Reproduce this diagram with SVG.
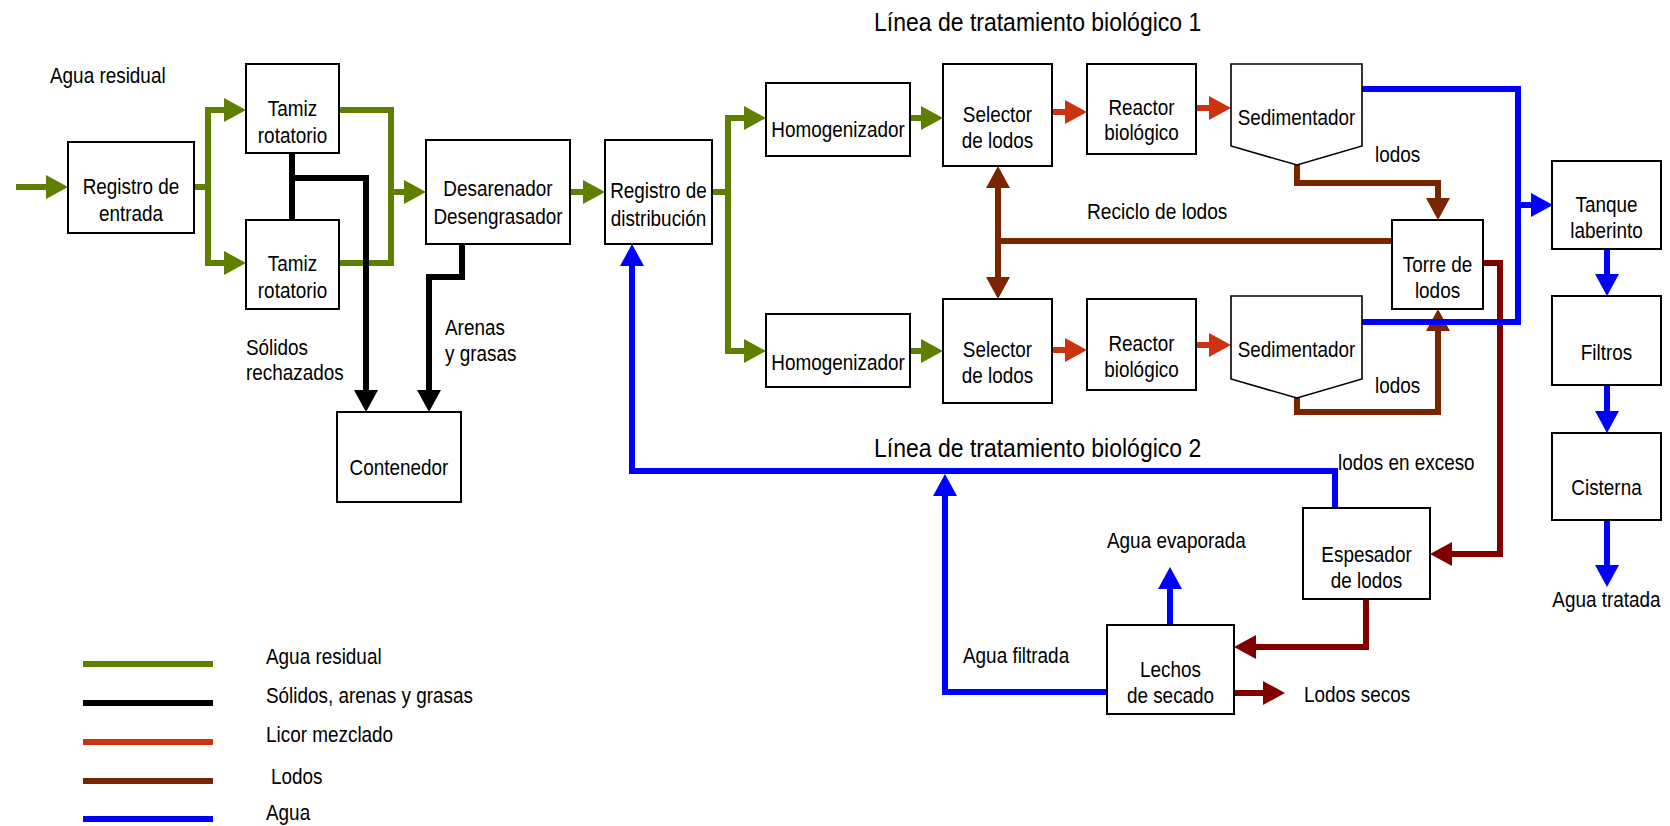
<svg xmlns="http://www.w3.org/2000/svg" width="1670" height="826" viewBox="0 0 1670 826">
  <style>
    .box { fill: #fff; stroke: #000; stroke-width: 2; }
    .sed { fill: #fff; stroke: #000; stroke-width: 1.6; stroke-linejoin: miter; }
    .t { font-family: "Liberation Sans", Arial, sans-serif; font-size: 22px; fill: #000; }
    .c { text-anchor: middle; }
    .title { font-family: "Liberation Sans", Arial, sans-serif; font-size: 25px; fill: #000; }
    .flow { fill: none; stroke-width: 6; stroke-linejoin: miter; stroke-linecap: butt; }
    .g { stroke: #5f7f00; }
    .k { stroke: #000; }
    .r { stroke: #cc3311; }
    .b { stroke: #7b2400; }
    .m { stroke: #800000; }
    .w { stroke: #0000ff; }
  </style>
  <defs>
    <marker id="ag" viewBox="0 0 22 24" refX="2" refY="12" markerWidth="22" markerHeight="24" markerUnits="userSpaceOnUse" orient="auto-start-reverse"><path d="M0 0L22 12L0 24z" fill="#5f7f00"/></marker>
    <marker id="ak" viewBox="0 0 22 24" refX="2" refY="12" markerWidth="22" markerHeight="24" markerUnits="userSpaceOnUse" orient="auto-start-reverse"><path d="M0 0L22 12L0 24z" fill="#000"/></marker>
    <marker id="ar" viewBox="0 0 22 24" refX="2" refY="12" markerWidth="22" markerHeight="24" markerUnits="userSpaceOnUse" orient="auto-start-reverse"><path d="M0 0L22 12L0 24z" fill="#cc3311"/></marker>
    <marker id="ab" viewBox="0 0 22 24" refX="2" refY="12" markerWidth="22" markerHeight="24" markerUnits="userSpaceOnUse" orient="auto-start-reverse"><path d="M0 0L22 12L0 24z" fill="#7b2400"/></marker>
    <marker id="am" viewBox="0 0 22 24" refX="2" refY="12" markerWidth="22" markerHeight="24" markerUnits="userSpaceOnUse" orient="auto-start-reverse"><path d="M0 0L22 12L0 24z" fill="#800000"/></marker>
    <marker id="aw" viewBox="0 0 22 24" refX="2" refY="12" markerWidth="22" markerHeight="24" markerUnits="userSpaceOnUse" orient="auto-start-reverse"><path d="M0 0L22 12L0 24z" fill="#0000ff"/></marker>
  </defs>

  <rect width="1670" height="826" fill="#fff"/>

  <!-- connectors -->
  <g id="connectors">
    <!-- wastewater (green) -->
    <path class="flow g" d="M16 187H48" marker-end="url(#ag)"/>
    <path class="flow g" d="M194 187H208"/>
    <path class="flow g" d="M226 110H208V263H226" marker-start="url(#ag)" marker-end="url(#ag)"/>
    <path class="flow g" d="M339 110H391V263H339"/>
    <path class="flow g" d="M391 192H406" marker-end="url(#ag)"/>
    <path class="flow g" d="M570 192H585" marker-end="url(#ag)"/>
    <path class="flow g" d="M712 192H728"/>
    <path class="flow g" d="M746 118H728V351H746" marker-start="url(#ag)" marker-end="url(#ag)"/>
    <path class="flow g" d="M910 118H923" marker-end="url(#ag)"/>
    <path class="flow g" d="M910 351H923" marker-end="url(#ag)"/>
    <!-- solids, grit and grease (black) -->
    <path class="flow k" d="M292 153V220"/>
    <path class="flow k" d="M292 178H366V392" marker-end="url(#ak)"/>
    <path class="flow k" d="M462 244V277H429V392" marker-end="url(#ak)"/>
    <!-- mixed liquor (red) -->
    <path class="flow r" d="M1052 112H1067" marker-end="url(#ar)"/>
    <path class="flow r" d="M1052 350H1067" marker-end="url(#ar)"/>
    <path class="flow r" d="M1196 108H1211" marker-end="url(#ar)"/>
    <path class="flow r" d="M1196 345H1211" marker-end="url(#ar)"/>
    <!-- sludge (brown) -->
    <path class="flow b" d="M1297 165V183H1438V200" marker-end="url(#ab)"/>
    <path class="flow b" d="M1297 398V412H1438V329" marker-end="url(#ab)"/>
    <path class="flow b" d="M1392 241H998"/>
    <path class="flow b" d="M998 186V279" marker-start="url(#ab)" marker-end="url(#ab)"/>
    <path class="flow m" d="M1483 263H1500V554H1450" marker-end="url(#am)"/>
    <path class="flow m" d="M1366 599V647H1254" marker-end="url(#am)"/>
    <path class="flow m" d="M1234 693H1265" marker-end="url(#am)"/>
    <!-- water (blue) -->
    <path class="flow w" d="M1362 89H1518V322H1362"/>
    <path class="flow w" d="M1518 205H1533" marker-end="url(#aw)"/>
    <path class="flow w" d="M1607 249V276" marker-end="url(#aw)"/>
    <path class="flow w" d="M1607 385V413" marker-end="url(#aw)"/>
    <path class="flow w" d="M1607 520V567" marker-end="url(#aw)"/>
    <path class="flow w" d="M1335 508V471H632V264" marker-end="url(#aw)"/>
    <path class="flow w" d="M1107 692H945V494" marker-end="url(#aw)"/>
    <path class="flow w" d="M1170 625V587" marker-end="url(#aw)"/>
  </g>

  <!-- nodes -->
  <g id="registro-entrada">
    <rect class="box" x="68" y="142" width="126" height="91"/>
    <text class="t c" transform="translate(131 0) scale(0.86 1)"><tspan x="0" y="194">Registro de</tspan><tspan x="0" y="221">entrada</tspan></text>
  </g>
  <g id="tamiz-1">
    <rect class="box" x="246" y="64" width="93" height="89"/>
    <text class="t c" transform="translate(292.5 0) scale(0.86 1)"><tspan x="0" y="116">Tamiz</tspan><tspan x="0" y="143">rotatorio</tspan></text>
  </g>
  <g id="tamiz-2">
    <rect class="box" x="246" y="220" width="93" height="89"/>
    <text class="t c" transform="translate(292.5 0) scale(0.86 1)"><tspan x="0" y="271">Tamiz</tspan><tspan x="0" y="298">rotatorio</tspan></text>
  </g>
  <g id="desarenador">
    <rect class="box" x="426" y="140" width="144" height="104"/>
    <text class="t c" transform="translate(498 0) scale(0.86 1)"><tspan x="0" y="196">Desarenador</tspan><tspan x="0" y="224">Desengrasador</tspan></text>
  </g>
  <g id="contenedor">
    <rect class="box" x="337" y="412" width="124" height="90"/>
    <text class="t c" transform="translate(399 0) scale(0.86 1)" x="0" y="475">Contenedor</text>
  </g>
  <g id="registro-distribucion">
    <rect class="box" x="605" y="140" width="107" height="104"/>
    <text class="t c" transform="translate(658.5 0) scale(0.86 1)"><tspan x="0" y="198">Registro de</tspan><tspan x="0" y="226">distribución</tspan></text>
  </g>
  <g id="homogenizador-1">
    <rect class="box" x="766" y="83" width="144" height="73"/>
    <text class="t c" transform="translate(838 0) scale(0.86 1)" x="0" y="137">Homogenizador</text>
  </g>
  <g id="homogenizador-2">
    <rect class="box" x="766" y="314" width="144" height="73"/>
    <text class="t c" transform="translate(838 0) scale(0.86 1)" x="0" y="370">Homogenizador</text>
  </g>
  <g id="selector-1">
    <rect class="box" x="943" y="64" width="109" height="102"/>
    <text class="t c" transform="translate(997.5 0) scale(0.86 1)"><tspan x="0" y="122">Selector</tspan><tspan x="0" y="148">de lodos</tspan></text>
  </g>
  <g id="selector-2">
    <rect class="box" x="943" y="299" width="109" height="104"/>
    <text class="t c" transform="translate(997.5 0) scale(0.86 1)"><tspan x="0" y="357">Selector</tspan><tspan x="0" y="383">de lodos</tspan></text>
  </g>
  <g id="reactor-1">
    <rect class="box" x="1087" y="64" width="109" height="90"/>
    <text class="t c" transform="translate(1141.5 0) scale(0.86 1)"><tspan x="0" y="115">Reactor</tspan><tspan x="0" y="140">biológico</tspan></text>
  </g>
  <g id="reactor-2">
    <rect class="box" x="1087" y="299" width="109" height="91"/>
    <text class="t c" transform="translate(1141.5 0) scale(0.86 1)"><tspan x="0" y="351">Reactor</tspan><tspan x="0" y="377">biológico</tspan></text>
  </g>
  <g id="sedimentador-1">
    <polygon class="sed" points="1231,64 1362,64 1362,146 1297,165 1231,146"/>
    <text class="t c" transform="translate(1296.5 0) scale(0.86 1)" x="0" y="125">Sedimentador</text>
  </g>
  <g id="sedimentador-2">
    <polygon class="sed" points="1231,296 1362,296 1362,379 1297,398 1231,379"/>
    <text class="t c" transform="translate(1296.5 0) scale(0.86 1)" x="0" y="357">Sedimentador</text>
  </g>
  <g id="torre-lodos">
    <rect class="box" x="1392" y="220" width="91" height="89"/>
    <text class="t c" transform="translate(1437.5 0) scale(0.86 1)"><tspan x="0" y="272">Torre de</tspan><tspan x="0" y="298">lodos</tspan></text>
  </g>
  <g id="tanque-laberinto">
    <rect class="box" x="1552" y="161" width="109" height="88"/>
    <text class="t c" transform="translate(1606.5 0) scale(0.86 1)"><tspan x="0" y="212">Tanque</tspan><tspan x="0" y="238">laberinto</tspan></text>
  </g>
  <g id="filtros">
    <rect class="box" x="1552" y="296" width="109" height="89"/>
    <text class="t c" transform="translate(1606.5 0) scale(0.86 1)" x="0" y="360">Filtros</text>
  </g>
  <g id="cisterna">
    <rect class="box" x="1552" y="433" width="109" height="87"/>
    <text class="t c" transform="translate(1606.5 0) scale(0.86 1)" x="0" y="495">Cisterna</text>
  </g>
  <g id="espesador">
    <rect class="box" x="1303" y="508" width="127" height="91"/>
    <text class="t c" transform="translate(1366.5 0) scale(0.86 1)"><tspan x="0" y="562">Espesador</tspan><tspan x="0" y="588">de lodos</tspan></text>
  </g>
  <g id="lechos-secado">
    <rect class="box" x="1107" y="625" width="127" height="89"/>
    <text class="t c" transform="translate(1170.5 0) scale(0.86 1)"><tspan x="0" y="677">Lechos</tspan><tspan x="0" y="703">de secado</tspan></text>
  </g>

  <!-- flow labels -->
  <g id="labels">
    <text class="title" transform="translate(874 0) scale(0.92 1)" x="0" y="31">Línea de tratamiento biológico 1</text>
    <text class="title" transform="translate(874 0) scale(0.92 1)" x="0" y="457">Línea de tratamiento biológico 2</text>
    <text class="t" transform="translate(50 0) scale(0.86 1)" x="0" y="83">Agua residual</text>
    <text class="t" transform="translate(246 0) scale(0.86 1)"><tspan x="0" y="355">Sólidos</tspan><tspan x="0" y="380">rechazados</tspan></text>
    <text class="t" transform="translate(445 0) scale(0.86 1)"><tspan x="0" y="335">Arenas</tspan><tspan x="0" y="361">y grasas</tspan></text>
    <text class="t" transform="translate(1087 0) scale(0.87 1)" x="0" y="219">Reciclo de lodos</text>
    <text class="t" transform="translate(1375 0) scale(0.86 1)" x="0" y="162">lodos</text>
    <text class="t" transform="translate(1375 0) scale(0.86 1)" x="0" y="393">lodos</text>
    <text class="t" transform="translate(1338 0) scale(0.86 1)" x="0" y="470">lodos en exceso</text>
    <text class="t" transform="translate(1107 0) scale(0.86 1)" x="0" y="548">Agua evaporada</text>
    <text class="t" transform="translate(963 0) scale(0.86 1)" x="0" y="663">Agua filtrada</text>
    <text class="t" transform="translate(1304 0) scale(0.86 1)" x="0" y="702">Lodos secos</text>
    <text class="t c" transform="translate(1606.5 0) scale(0.86 1)" x="0" y="607">Agua tratada</text>
  </g>

  <!-- legend -->
  <g id="legend">
    <line class="flow g" x1="83" y1="664" x2="213" y2="664"/>
    <line class="flow k" x1="83" y1="703" x2="213" y2="703"/>
    <line class="flow r" x1="83" y1="742" x2="213" y2="742" stroke-linecap="round"/>
    <line class="flow b" x1="83" y1="781" x2="213" y2="781" stroke-linecap="round"/>
    <line class="flow w" x1="83" y1="819" x2="213" y2="819" stroke-linecap="round"/>
    <text class="t" transform="translate(266 0) scale(0.86 1)" x="0" y="664">Agua residual</text>
    <text class="t" transform="translate(266 0) scale(0.86 1)" x="0" y="703">Sólidos, arenas y grasas</text>
    <text class="t" transform="translate(266 0) scale(0.86 1)" x="0" y="742">Licor mezclado</text>
    <text class="t" transform="translate(271 0) scale(0.86 1)" x="0" y="784">Lodos</text>
    <text class="t" transform="translate(266 0) scale(0.86 1)" x="0" y="820">Agua</text>
  </g>
</svg>
